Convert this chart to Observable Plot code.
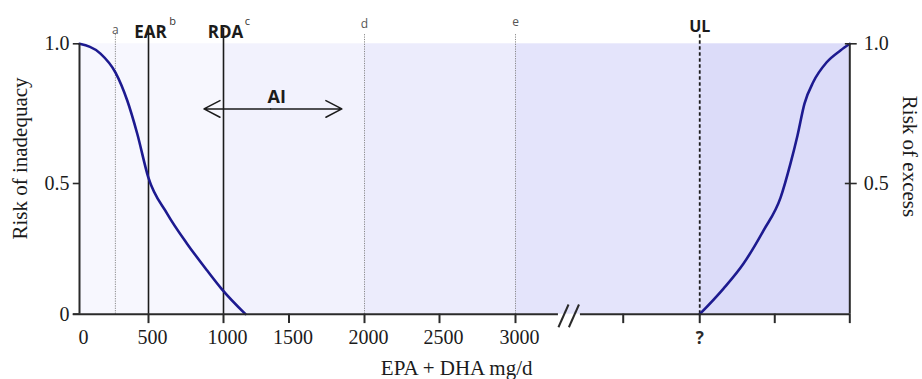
<!DOCTYPE html>
<html>
<head>
<meta charset="utf-8">
<script src="https://cdn.jsdelivr.net/npm/d3@7"></script>
<script src="https://cdn.jsdelivr.net/npm/@observablehq/plot@0.6"></script>
<style>
  body { margin: 0; background: #fff; }
</style>
</head>
<body>
<div id="chart"></div>
<script>
// Intake axis (EPA + DHA, mg/d): labelled ticks, then unlabelled ticks past the axis break
const intakeTicks = [0, 500, 1000, 1500, 2000, 2500, 3000];
const beyondTicks = [3725, 4240, 4745, 5250];
const ulIntake = 4240;          // tolerable upper intake level (unknown, marked "?")
const intakeEnd = 5250;

// Risk axes
const riskTicks = [0, 0.5, 1];
const riskLabels = ["0", "0.5", "1.0"];
const excessRiskTicks = [0.5, 1];
const excessRiskLabels = ["0.5", "1.0"];

// Reference intakes
const minorRefNames = ["a", "d", "e"];
const minorRefIntakes = [260, 2000, 3000];
const majorRefNames = ["EAR", "RDA"];
const majorRefIntakes = [500, 1000];
const majorRefNotes = ["b", "c"];

// Background shading, growing darker toward excess
const bandStarts = [0, 1000, 2000, 3000, 4240];
const bandEnds = [1000, 2000, 3000, 4240, 5250];
const bandFills = ["#f7f7fe", "#f2f2fd", "#ececfc", "#e4e4fb", "#dcdcf9"];

// Risk of inadequacy curve
const inadequacyIntake = [0, 152, 261, 346, 418, 498, 625, 758, 891, 987, 1168];
const inadequacyRisk = [1, 0.965, 0.897, 0.797, 0.679, 0.523, 0.384, 0.269, 0.167, 0.097, 0];

// Risk of excess curve
const excessIntake = [4240, 4400, 4535, 4669, 4784, 4851, 4898, 4945, 5005, 5093, 5187, 5250];
const excessRisk = [0, 0.098, 0.194, 0.320, 0.446, 0.572, 0.672, 0.786, 0.864, 0.933, 0.976, 1];

// Adequate intake span
const aiFrom = 870, aiTo = 1850, aiRisk = 0.767;

// Axis break on the intake axis
const breakFrom = 3289, breakTo = 3437;

const serif = "Liberation Serif";
const sans = "Open Sans";
const ink = "#1b1b1b";
const curveColor = "#1d1a90";

const breakSlashes = [0, 1].map(i => {
  const w = (breakTo - breakFrom) / 2;
  return {x1: breakFrom + i * w * 0.95, x2: breakFrom + i * w * 0.95 + w * 0.92, y1: -0.05, y2: 0.037};
});

const minorDy = [-14, -20, -22];

const chart = Plot.plot({
  width: 922,
  height: 379,
  marginLeft: 79,
  marginRight: 72.7,
  marginTop: 43.3,
  marginBottom: 65.3,
  x: {
    type: "linear",
    domain: [0, 500, 1000, 1500, 2000, 2500, 3000, 5250],
    range: [79, 148, 223, 288.5, 364, 439, 515, 849.3],
    axis: null
  },
  y: {
    type: "linear",
    domain: [0, 0.5, 1],
    range: [313.7, 183, 43.3],
    axis: null
  },
  color: {type: "identity"},
  marks: [
    // shading
    Plot.rect(bandFills, {
      x1: (d, i) => bandStarts[i], x2: (d, i) => bandEnds[i],
      y1: 0, y2: 1, fill: d => d
    }),

    // reference lines
    Plot.ruleX(minorRefIntakes, {x: d => d, y1: 0, y2: 1.037, stroke: "#8a8a8a", strokeWidth: 1, strokeDasharray: "1.2,1.2"}),
    Plot.ruleX(majorRefIntakes, {x: d => d, y1: 0, y2: 1.055, stroke: ink, strokeWidth: 1.6}),
    Plot.ruleX([ulIntake], {x: d => d, y1: 0, y2: 1.037, stroke: ink, strokeWidth: 1.8, strokeDasharray: "3.5,2.5"}),

    // reference labels
    ...minorRefNames.map((name, i) => Plot.text([name], {
      x: minorRefIntakes[i], y: 1, dy: minorDy[i], text: d => d,
      fontFamily: sans, fontSize: 12, fill: "#555"
    })),
    Plot.text(majorRefNames, {
      x: (d, i) => majorRefIntakes[i], y: 1, dx: 2, dy: -11, text: d => d,
      fontFamily: sans, fontSize: 17, fontWeight: "bold", fill: ink
    }),
    Plot.text(majorRefNotes, {
      x: (d, i) => majorRefIntakes[i], y: 1, dx: 24, dy: -22, text: d => d,
      fontFamily: sans, fontSize: 11, fill: "#333"
    }),
    Plot.text(["UL"], {
      x: ulIntake, y: 1, dy: -17.4, text: d => d,
      fontFamily: sans, fontSize: 16, fontWeight: "bold", fill: ink
    }),

    // adequate intake arrow
    Plot.arrow([aiFrom, aiTo], {
      x1: (aiFrom + aiTo) / 2, x2: d => d, y1: aiRisk, y2: aiRisk,
      stroke: ink, strokeWidth: 1.5, headAngle: 55, headLength: 18
    }),
    Plot.text(["AI"], {
      x: (aiFrom + aiTo) / 2, y: aiRisk, dx: 6, dy: -11.4, text: d => d,
      fontFamily: sans, fontSize: 18, fontWeight: "bold", fill: ink
    }),

    // risk curves
    Plot.line(inadequacyIntake, {
      x: d => d, y: (d, i) => inadequacyRisk[i],
      curve: "monotone-x", stroke: curveColor, strokeWidth: 2.6
    }),
    Plot.line(excessIntake, {
      x: d => d, y: (d, i) => excessRisk[i],
      curve: "monotone-x", stroke: curveColor, strokeWidth: 2.6
    }),

    // axis lines
    Plot.ruleX([0], {y1: 0, y2: 1, stroke: "#2a2a2a", strokeWidth: 2}),
    Plot.ruleX([intakeEnd], {y1: 0, y2: 1, stroke: "#2a2a2a", strokeWidth: 2}),
    Plot.ruleY([0], {x1: -45, x2: breakFrom, stroke: "#2a2a2a", strokeWidth: 2}),
    Plot.ruleY([0], {x1: breakTo, x2: intakeEnd, stroke: "#2a2a2a", strokeWidth: 2}),
    Plot.link(breakSlashes, {x1: "x1", y1: "y1", x2: "x2", y2: "y2", stroke: "#2a2a2a", strokeWidth: 2}),

    // intake ticks and labels
    Plot.ruleX([...intakeTicks.slice(1), ...beyondTicks], {x: d => d, y1: 0, y2: -0.036, stroke: "#2a2a2a", strokeWidth: 2}),
    Plot.text(intakeTicks, {
      x: d => d, y: 0, dx: 4, dy: 23, text: d => String(d),
      fontFamily: serif, fontSize: 20, fill: ink
    }),
    Plot.text(["?"], {
      x: ulIntake, y: 0, dy: 24, text: d => d,
      fontFamily: sans, fontSize: 17, fontWeight: "bold", fill: "#2a2a2a"
    }),

    // risk ticks and labels
    Plot.ruleY(riskTicks, {y: d => d, x1: -45, x2: 0, stroke: "#2a2a2a", strokeWidth: 1.6}),
    Plot.text(riskTicks, {
      x: 0, y: d => d, dx: -10, text: (d, i) => riskLabels[i], textAnchor: "end",
      fontFamily: serif, fontSize: 20, fill: ink
    }),
    Plot.ruleY(excessRiskTicks, {y: d => d, x1: 5220, x2: 5300, stroke: "#2a2a2a", strokeWidth: 1.6}),
    Plot.text(excessRiskTicks, {
      x: intakeEnd, y: d => d, dx: 14, text: (d, i) => excessRiskLabels[i], textAnchor: "start",
      fontFamily: serif, fontSize: 20, fill: ink
    }),

    // axis titles
    Plot.text(["Risk of inadequacy"], {
      frameAnchor: "left", dx: -59, dy: -20.5, rotate: -90, text: d => d,
      textAnchor: "middle", lineAnchor: "middle",
      fontFamily: serif, fontSize: 21, fill: ink
    }),
    Plot.text(["Risk of excess"], {
      frameAnchor: "right", dx: 59.5, dy: -22.5, rotate: 90, text: d => d,
      textAnchor: "middle", lineAnchor: "middle",
      fontFamily: serif, fontSize: 21, fill: ink
    }),
    Plot.text(["EPA + DHA mg/d"], {
      frameAnchor: "bottom", dx: -8, dy: 54, text: d => d,
      textAnchor: "middle", lineAnchor: "middle",
      fontFamily: serif, fontSize: 21, fill: ink
    })
  ]
});

document.getElementById("chart").appendChild(chart);
</script>
</body>
</html>
